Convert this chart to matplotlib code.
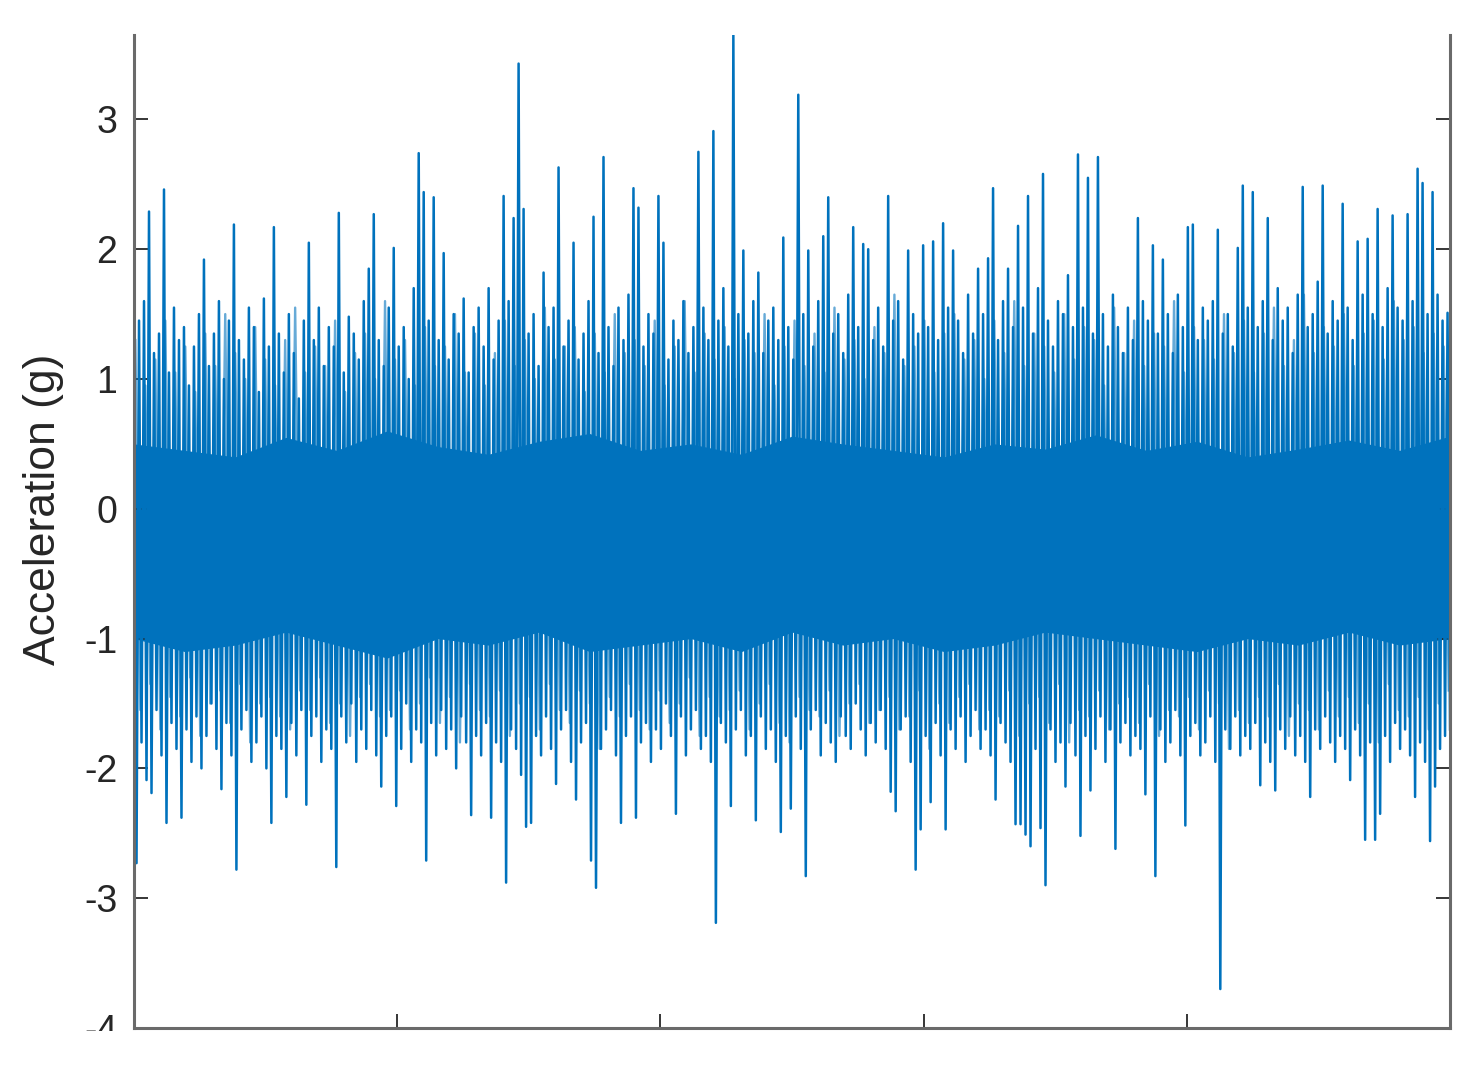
import matplotlib
matplotlib.use("Agg")
import matplotlib.pyplot as plt
from matplotlib.patches import Rectangle
import numpy as np

# upper peaks of the record (g), read left to right
upper = [1.92, 1.45, 1.60, 2.29, 1.20, 1.35, 2.46, 1.05, 1.55, 1.30,
         1.40, 0.95, 1.25, 1.50, 1.92, 1.10, 1.35, 1.60, 1.00, 1.45,
         2.19, 1.30, 1.15, 1.55, 1.40, 0.90, 1.62, 1.25, 2.17, 1.35,
         1.05, 1.50, 1.20, 0.85, 1.45, 2.05, 1.30, 1.55, 1.10, 1.40,
         1.25, 2.28, 1.05, 1.48, 1.35, 1.15, 1.60, 1.85, 2.27, 1.30,
         1.10, 1.55, 2.01, 1.25, 1.40, 1.00, 1.70, 2.74, 2.44, 1.45,
         2.40, 1.30, 1.97, 1.15, 1.50, 1.35, 1.62, 1.05, 1.40, 1.55,
         1.25, 1.70, 1.15, 1.45, 2.41, 1.60, 2.24, 3.43, 2.31, 1.35,
         1.50, 1.10, 1.82, 1.40, 1.55, 2.63, 1.25, 1.45, 2.05, 1.15,
         1.35, 1.60, 2.25, 1.20, 2.71, 1.40, 1.10, 1.55, 1.30, 1.65,
         2.47, 2.32, 1.25, 1.50, 1.35, 2.41, 2.05, 1.15, 1.45, 1.30,
         1.60, 1.20, 1.40, 2.75, 1.55, 1.30, 2.91, 1.45, 1.70, 1.25,
         3.65, 1.50, 1.99, 1.35, 1.60, 1.82, 1.20, 1.45, 1.55, 1.30,
         2.09, 1.40, 1.15, 3.19, 1.50, 1.99, 1.25, 1.60, 2.10, 2.40,
         1.35, 1.50, 1.20, 1.65, 2.17, 1.40, 2.04, 2.00, 1.30, 1.55,
         1.25, 2.41, 1.45, 1.60, 1.15, 1.99, 1.50, 1.35, 2.03, 1.40,
         2.06, 1.30, 2.20, 1.55, 1.99, 1.45, 1.20, 1.65, 1.35, 1.85,
         1.50, 1.93, 2.47, 1.30, 1.60, 1.85, 1.40, 2.18, 1.55, 2.41,
         1.35, 1.70, 2.58, 1.45, 1.25, 1.60, 1.50, 1.80, 1.40, 2.73,
         1.55, 2.55, 1.35, 2.71, 1.50, 1.25, 1.65, 1.40, 1.20, 1.55,
         1.30, 2.24, 1.60, 1.45, 2.03, 1.35, 1.92, 1.50, 1.20, 1.65,
         1.40, 2.17, 2.19, 1.30, 1.55, 1.45, 1.60, 2.15, 1.35, 1.50,
         1.25, 2.01, 2.49, 1.55, 2.44, 1.40, 1.60, 2.24, 1.30, 1.70,
         1.45, 1.55, 1.20, 1.65, 2.48, 1.40, 1.50, 1.75, 2.49, 1.35,
         1.60, 1.45, 2.35, 1.55, 1.30, 2.06, 1.65, 2.08, 1.50, 2.31,
         1.40, 1.70, 2.26, 1.55, 1.45, 2.27, 1.60, 2.62, 2.51, 1.50,
         2.44, 1.65, 1.45, 1.51]

# lower peaks of the record (g)
lower = [-2.73, -1.80, -2.09, -2.19, -1.55, -1.90, -2.42, -1.65, -1.85, -2.38,
         -1.70, -1.95, -1.60, -2.00, -1.75, -1.50, -1.85, -2.16, -1.65, -1.90,
         -2.78, -1.70, -1.55, -1.95, -1.80, -1.60, -2.00, -2.42, -1.75, -1.85,
         -2.22, -1.65, -1.90, -1.55, -2.28, -1.75, -1.60, -1.95, -1.70, -1.85,
         -2.76, -1.60, -1.80, -1.50, -1.95, -1.70, -1.85, -1.55, -1.90, -2.14,
         -1.75, -1.60, -2.29, -1.85, -1.50, -1.95, -1.70, -1.80, -2.71, -1.65,
         -1.90, -1.55, -1.85, -1.70, -2.00, -1.60, -1.80, -2.36, -1.75, -1.90,
         -1.65, -2.38, -1.80, -1.95, -2.88, -1.70, -1.85, -2.05, -2.45, -2.42,
         -1.75, -1.90, -1.60, -1.85, -2.12, -1.70, -1.55, -1.95, -2.24, -1.80,
         -1.65, -2.71, -2.92, -1.85, -1.70, -1.55, -1.90, -2.42, -1.75, -1.60,
         -2.38, -1.80, -1.65, -1.95, -1.70, -1.85, -1.50, -1.75, -2.35, -1.60,
         -1.90, -1.70, -1.55, -1.85, -1.75, -1.95, -3.19, -1.65, -1.80, -2.29,
         -1.70, -1.55, -1.90, -1.75, -2.40, -1.60, -1.85, -1.70, -1.95, -2.49,
         -1.75, -2.31, -1.60, -1.85, -2.83, -1.70, -1.55, -1.90, -1.65, -1.80,
         -1.95, -1.60, -1.75, -1.85, -1.50, -1.70, -1.90, -1.65, -1.80, -1.55,
         -1.85, -2.18, -2.33, -1.70, -1.60, -1.95, -2.78, -2.47, -1.75, -2.26,
         -1.65, -1.90, -2.47, -1.70, -1.85, -1.60, -1.95, -1.75, -1.55, -1.85,
         -1.70, -1.90, -2.24, -1.65, -1.80, -1.95, -2.43, -2.43, -2.51, -2.60,
         -1.85, -2.46, -2.90, -1.70, -1.95, -1.80, -2.14, -1.65, -1.90, -2.52,
         -1.75, -2.17, -1.85, -1.60, -1.95, -1.70, -2.62, -1.80, -1.65, -1.90,
         -1.75, -1.85, -2.20, -1.60, -2.83, -1.70, -1.95, -1.80, -1.55, -1.90,
         -2.44, -1.75, -1.65, -1.90, -1.80, -1.60, -1.95, -3.70, -1.70, -1.85,
         -1.60, -1.90, -1.75, -1.85, -1.65, -2.13, -1.80, -1.95, -2.17, -1.70,
         -1.85, -1.60, -1.90, -1.75, -1.95, -2.22, -1.70, -1.85, -1.60, -1.80,
         -1.95, -1.75, -1.85, -2.09, -1.70, -1.90, -2.55, -1.80, -2.55, -2.35,
         -1.75, -1.95, -1.65, -1.85, -1.70, -1.90, -2.22, -1.80, -1.95, -2.56,
         -2.14, -1.85, -1.75, -1.70]

# smaller swings in between the peaks (g)
mid_hi = [1.30, 0.95, 1.15, 1.45, 1.05, 1.25, 0.90, 1.35, 1.10, 1.50,
          1.20, 1.00, 1.40, 1.15, 0.95, 1.30, 1.55, 1.05, 1.25, 1.10,
          1.45, 0.90, 1.20, 1.35, 1.00, 1.60, 1.15, 1.30, 0.95, 1.40,
          1.10, 1.25, 1.50, 1.05, 1.35, 0.95, 1.20, 1.45, 1.10, 1.30,
          1.00, 1.55, 1.15, 1.25, 1.40, 0.90, 1.35, 1.05, 1.50, 1.20,
          1.30, 1.10, 1.45, 0.95, 1.25, 1.60, 1.05, 1.35, 1.15, 1.40,
          1.00, 1.30, 1.20, 1.50, 0.95, 1.25, 1.45, 1.10, 1.35, 1.05,
          1.55, 1.15, 1.30, 1.00, 1.40, 1.20, 1.65, 1.10, 1.25, 1.45,
          1.05, 1.35, 1.50, 1.15, 1.30, 1.00, 1.45, 1.20, 1.60, 1.10,
          1.35, 1.25, 1.05, 1.50, 1.15, 1.40, 1.30, 0.95, 1.55, 1.20,
          1.45, 1.10, 1.35, 1.25, 1.60, 1.05, 1.40, 1.30, 1.15, 1.50,
          1.20, 1.45, 1.05, 1.35, 1.55, 1.10, 1.30, 1.65, 1.20, 1.40,
          1.25, 1.50, 1.10, 1.35, 1.45, 1.15, 1.60, 1.30, 1.40, 1.20,
          1.35, 1.25]
mid_lo = [-1.55, -1.35, -1.70, -1.45, -1.60, -1.30, -1.75, -1.50, -1.40, -1.65,
          -1.35, -1.80, -1.50, -1.45, -1.60, -1.70, -1.40, -1.55, -1.30, -1.65,
          -1.50, -1.75, -1.45, -1.35, -1.60, -1.55, -1.40, -1.70, -1.50, -1.30,
          -1.65, -1.45, -1.80, -1.35, -1.55, -1.60, -1.40, -1.75, -1.50, -1.45,
          -1.70, -1.35, -1.55, -1.65, -1.40, -1.50, -1.85, -1.45, -1.60, -1.35,
          -1.55, -1.70, -1.40, -1.65, -1.50, -1.30, -1.75, -1.45, -1.60, -1.55,
          -1.40, -1.70, -1.50, -1.35, -1.65, -1.80, -1.45, -1.55, -1.60, -1.40,
          -1.75, -1.50, -1.35, -1.65, -1.55, -1.45, -1.70, -1.60, -1.40, -1.85,
          -1.50, -1.65, -1.45, -1.35, -1.70, -1.55, -1.60, -1.40, -1.75, -1.50,
          -1.45, -1.65, -1.35, -1.80, -1.55, -1.60, -1.40, -1.70, -1.50, -1.45,
          -1.65, -1.35, -1.75, -1.55, -1.60, -1.45, -1.70, -1.40, -1.50, -1.85,
          -1.55, -1.65, -1.45, -1.60, -1.35, -1.75, -1.50, -1.55, -1.70, -1.40,
          -1.60, -1.45, -1.65, -1.50, -1.80, -1.35, -1.55, -1.60, -1.45, -1.70,
          -1.50, -1.40]

# dense part of the band (solid blue)
core_hi = [0.50, 0.45, 0.40, 0.55, 0.45, 0.60, 0.48, 0.42, 0.52, 0.58,
           0.45, 0.50, 0.42, 0.56, 0.50, 0.45, 0.40, 0.50, 0.46, 0.57,
           0.45, 0.52, 0.40, 0.46, 0.53, 0.45, 0.56]
core_lo = [-1.00, -1.10, -1.05, -0.95, -1.05, -1.15, -1.00, -1.05, -0.95, -1.10,
           -1.05, -1.00, -1.10, -0.95, -1.05, -1.00, -1.10, -1.05, -0.95, -1.00,
           -1.05, -1.10, -1.00, -1.05, -0.95, -1.05, -1.00]

yticks = [-4, -3, -2, -1, 0, 1, 2, 3]
t_end = 50

acc = np.column_stack([upper, lower]).ravel()
t = np.linspace(0, t_end, len(acc))
acc_mid = np.column_stack([mid_hi, mid_lo]).ravel()
t_mid = np.linspace(0.05, t_end - 0.05, len(acc_mid))
t_core = np.linspace(0, t_end, len(core_hi))

blue = "#0072BD"
plt.rcParams["font.family"] = ["Liberation Sans", "DejaVu Sans"]

fig = plt.figure(figsize=(14.81, 10.78), dpi=100)
ax = fig.add_axes([0.0905, 0.0464, 0.8886, 0.9211])

ax.fill_between(t_core, core_lo, core_hi, color=blue, lw=0)
ax.plot(t_mid, acc_mid, color=blue, lw=1.7, alpha=0.6)
ax.plot(t, acc, color=blue, lw=1.8)

ax.set_xlim(0, t_end)
ax.set_ylim(-4, 3.65)
ax.set_yticks(yticks)
ax.set_yticklabels([str(v) for v in yticks])
ax.set_xticks(np.arange(0, t_end + 1, 10))
ax.set_xticklabels([])
ax.set_ylabel("Acceleration (g)", fontsize=32, color="#262626")
# label sits a little above the middle of the (cropped) axes
ax.yaxis.set_label_coords(-0.053, 0.522)

ax.spines["top"].set_visible(False)
for s in ["left", "right", "bottom"]:
    ax.spines[s].set_color("#6a6a6a")
    ax.spines[s].set_linewidth(2.2)
ax.tick_params(axis="both", direction="in", length=10, width=1.3,
               color="#262626", labelsize=27, labelcolor="#262626",
               right=True, pad=12)

# bottom of the picture is cut off just under the axis line
fig.patches.append(Rectangle((0, 0), 1, 47 / 1078, transform=fig.transFigure,
                             facecolor="white", edgecolor="none", zorder=10))

fig.savefig("out.png", dpi=100)
